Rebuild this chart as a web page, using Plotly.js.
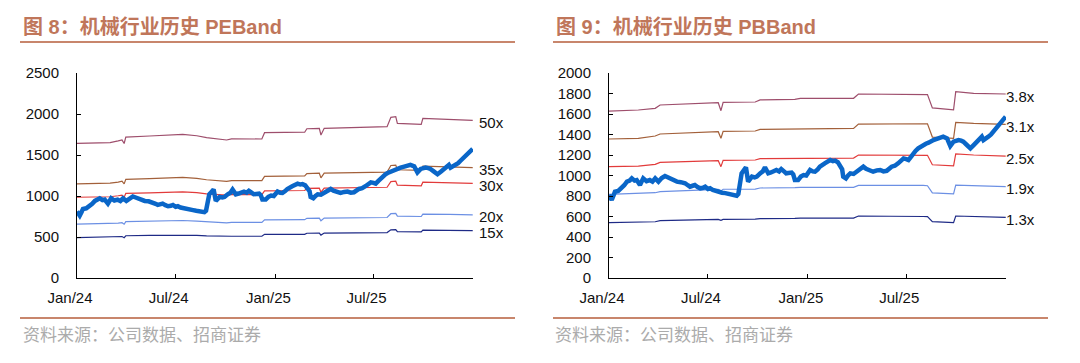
<!DOCTYPE html>
<html>
<head>
<meta charset="utf-8">
<script src="https://cdn.plot.ly/plotly-3.0.1.min.js"></script>
<style>html,body{margin:0;padding:0;background:#fff;}#chart{width:1080px;height:363px;}</style>
</head>
<body>
<div id="chart"></div>
<script>
// ---------- shared x ticks ----------
const tickDates = ['2024-01-01', '2024-07-01', '2025-01-01', '2025-07-01'];
const tickLabels = ['Jan/24', 'Jul/24', 'Jan/25', 'Jul/25'];

// ---------- index (机械行业指数) ----------
const idxDates = ['2024-01-01','2024-01-04','2024-01-06','2024-01-09','2024-01-12','2024-01-18','2024-01-24','2024-01-29','2024-02-03','2024-02-08','2024-02-12','2024-02-17','2024-02-21','2024-02-27','2024-03-04','2024-03-10','2024-03-16','2024-03-21','2024-03-26','2024-04-01','2024-04-07','2024-04-13','2024-04-17','2024-04-22','2024-04-28','2024-05-05','2024-05-12','2024-05-20','2024-05-25','2024-05-29','2024-06-03','2024-06-07','2024-06-12','2024-06-17','2024-06-22','2024-06-26','2024-07-01','2024-07-05','2024-07-10','2024-07-14','2024-07-20','2024-07-27','2024-08-02','2024-08-08','2024-08-15','2024-08-23','2024-08-26','2024-08-29','2024-09-01','2024-09-05','2024-09-09','2024-09-13','2024-09-17','2024-09-20','2024-09-25','2024-09-29','2024-10-05','2024-10-10','2024-10-14','2024-10-20','2024-10-25','2024-10-29','2024-11-04','2024-11-09','2024-11-13','2024-11-18','2024-11-22','2024-12-02','2024-12-05','2024-12-08','2024-12-14','2024-12-19','2024-12-24','2024-12-29','2025-01-05','2025-01-10','2025-01-14','2025-01-19','2025-01-23','2025-02-01','2025-02-06','2025-02-11','2025-02-16','2025-02-20','2025-02-25','2025-03-01','2025-03-05','2025-03-07','2025-03-12','2025-03-16','2025-03-20','2025-03-26','2025-04-01','2025-04-07','2025-04-13','2025-04-18','2025-04-22','2025-04-27','2025-05-01','2025-05-08','2025-05-14','2025-05-20','2025-05-26','2025-06-04','2025-06-10','2025-06-16','2025-06-21','2025-06-26','2025-07-01','2025-07-05','2025-07-10','2025-07-14','2025-07-18','2025-07-23','2025-07-27','2025-08-01','2025-08-06','2025-08-11','2025-08-15','2025-08-20','2025-08-25','2025-08-29','2025-09-03','2025-09-07','2025-09-14','2025-09-20','2025-09-26','2025-10-01','2025-10-05','2025-10-10','2025-10-14','2025-10-20','2025-10-27','2025-11-02','2025-11-07','2025-11-11','2025-11-17','2025-11-20','2025-11-25','2025-11-29','2025-12-04','2025-12-08','2025-12-12','2025-12-17','2025-12-22','2025-12-26','2025-12-31'];
const idxValues = [810,790,761,800,842,850,875,905,940,950,972,950,956,907,972,945,956,940,972,940,975,995,985,972,955,940,935,924,905,891,900,907,888,875,880,891,868,875,860,852,845,832,828,820,812,803,820,900,1021,1050,1080,940,975,989,982,989,1021,1040,1080,1021,1030,1037,1054,1040,1063,1040,1021,1028,1010,956,956,990,1005,1000,1054,1040,1037,1060,1086,1119,1130,1151,1140,1145,1130,1102,1060,989,972,1000,1021,1015,1037,1060,1086,1065,1054,1045,1037,1050,1054,1040,1046,1086,1095,1119,1140,1167,1160,1151,1185,1216,1240,1265,1280,1297,1310,1320,1335,1346,1355,1362,1370,1379,1362,1288,1330,1340,1346,1340,1330,1300,1265,1297,1320,1346,1379,1346,1360,1379,1400,1427,1450,1483,1510,1541,1574];

// ---------- PE band ----------
const peDates = ['2024-01-01','2024-03-02','2024-03-17','2024-03-24','2024-03-28','2024-03-31','2024-05-14','2024-07-14','2024-08-09','2024-08-27','2024-10-03','2024-10-12','2024-12-07','2024-12-12','2025-02-24','2025-02-28','2025-03-23','2025-03-26','2025-04-01','2025-07-26','2025-08-02','2025-08-11','2025-08-14','2025-09-27','2025-09-30','2025-11-18','2025-12-31'];
const pe50 = [1642,1652,1672,1685,1640,1718,1732,1752,1735,1712,1683,1697,1695,1772,1778,1820,1825,1744,1825,1845,1960,1967,1886,1874,1947,1939,1923];
const pe35 = [1149,1156,1170,1180,1148,1203,1212,1226,1215,1198,1178,1188,1187,1240,1245,1274,1278,1221,1278,1292,1372,1377,1320,1312,1363,1357,1346];
const pe30 = [985,991,1003,1011,984,1031,1039,1051,1041,1027,1010,1018,1017,1063,1067,1092,1095,1046,1095,1107,1176,1180,1132,1124,1168,1163,1154];
const pe20 = [657,661,669,674,656,687,693,701,694,685,673,679,678,709,711,728,730,698,730,738,784,787,754,750,779,776,769];
const pe15 = [493,496,502,506,492,515,520,526,521,514,505,509,509,532,533,546,548,523,548,554,588,590,566,562,584,582,577];
const peLabels = ['50x','35x','30x','20x','15x'];

// ---------- PB band ----------
const pbDates = ['2024-01-01','2024-02-24','2024-03-26','2024-04-04','2024-07-20','2024-07-25','2024-07-29','2024-09-26','2024-10-05','2024-12-08','2024-12-18','2025-03-26','2025-04-04','2025-08-01','2025-08-09','2025-08-18','2025-09-26','2025-09-30','2025-11-02','2025-12-31'];
const pb38 = [1629,1639,1655,1688,1710,1632,1713,1717,1737,1743,1753,1753,1795,1795,1790,1660,1640,1818,1802,1795];
const pb31 = [1356,1363,1385,1405,1427,1363,1430,1434,1450,1454,1460,1460,1502,1509,1505,1375,1363,1519,1509,1499];
const pb25 = [1086,1092,1109,1128,1145,1086,1148,1151,1164,1167,1171,1170,1200,1200,1197,1105,1093,1210,1200,1190];
const pb19 = [816,822,832,842,865,850,866,868,878,882,885,885,904,904,900,830,820,907,900,891];
const pb13 = [540,543,549,559,572,562,572,574,580,582,585,585,605,600,598,550,540,605,598,592];
const pbLabels = ['3.8x','3.1x','2.5x','1.9x','1.3x'];

// ---------- titles ----------
const titleLeft = '图 8：机械行业历史 PEBand';
const titleRight = '图 9：机械行业历史 PBBand';
const sourceText = '资料来源：公司数据、招商证券';

// ---------- styles ----------
const bandColors = ['#9E4E6C', '#A3603A', '#E23B3B', '#6C90E4', '#1E2A86'];
const idxColor = '#0A66C8';
const W = 1080, H = 363;
const px = v => v / W;
const py = v => 1 - v / H;

const traces = [];
const peSeries = [pe50, pe35, pe30, pe20, pe15];
const pbSeries = [pb38, pb31, pb25, pb19, pb13];
peSeries.forEach((s, i) => traces.push({x: peDates, y: s, type: 'scatter', mode: 'lines', xaxis: 'x', yaxis: 'y', line: {color: bandColors[i], width: 1.2}, hoverinfo: 'skip'}));
traces.push({x: idxDates, y: idxValues, type: 'scatter', mode: 'lines', xaxis: 'x', yaxis: 'y', line: {color: idxColor, width: 4.5}});
pbSeries.forEach((s, i) => traces.push({x: pbDates, y: s, type: 'scatter', mode: 'lines', xaxis: 'x2', yaxis: 'y2', line: {color: bandColors[i], width: 1.2}, hoverinfo: 'skip'}));
traces.push({x: idxDates, y: idxValues, type: 'scatter', mode: 'lines', xaxis: 'x2', yaxis: 'y2', line: {color: idxColor, width: 4.5}});

const tickFont = {family: 'Liberation Sans, Arial, sans-serif', size: 15, color: '#111'};
function xAxis(domain, anchor) {
  return {domain: domain, anchor: anchor, type: 'date', range: ['2024-01-01', '2025-12-31 12:00'],
    tickmode: 'array', tickvals: tickDates, ticktext: tickLabels, ticks: 'inside', ticklen: 4, tickwidth: 1, tickcolor: '#000',
    showline: true, linecolor: '#000', linewidth: 1, showgrid: false, zeroline: false, tickfont: tickFont,
    ticklabelshift: -7, ticklabelstandoff: 6, fixedrange: true};
}
function yAxis(domain, anchor, max, dtick) {
  return {domain: domain, anchor: anchor, range: [0, max], tick0: 0, dtick: dtick, ticks: 'inside', ticklen: 4, tickwidth: 1, tickcolor: '#000',
    showline: true, linecolor: '#000', linewidth: 1, showgrid: false, zeroline: false, tickfont: tickFont,
    ticklabelstandoff: 14, fixedrange: true};
}

const yDom = [py(278), py(73)];
const annotations = [];
const titleFont = {family: 'Liberation Sans, Noto Sans CJK SC, sans-serif', size: 20, color: '#C0765A', weight: 'bold'};
const srcFont = {family: 'Noto Sans CJK SC, sans-serif', size: 17, color: '#ABABAB'};
annotations.push({text: '<b>' + titleLeft + '</b>', xref: 'paper', yref: 'paper', x: px(21), y: py(27), xanchor: 'left', yanchor: 'middle', showarrow: false, font: titleFont});
annotations.push({text: '<b>' + titleRight + '</b>', xref: 'paper', yref: 'paper', x: px(554), y: py(27), xanchor: 'left', yanchor: 'middle', showarrow: false, font: titleFont});
annotations.push({text: sourceText, xref: 'paper', yref: 'paper', x: px(21), y: py(333), xanchor: 'left', yanchor: 'middle', showarrow: false, font: srcFont});
annotations.push({text: sourceText, xref: 'paper', yref: 'paper', x: px(553), y: py(333), xanchor: 'left', yanchor: 'middle', showarrow: false, font: srcFont});
const labFont = {family: 'Liberation Sans, Arial, sans-serif', size: 15, color: '#111'};
peSeries.forEach((s, i) => annotations.push({text: peLabels[i], xref: 'x', yref: 'y', x: peDates[peDates.length - 1], y: s[s.length - 1], xanchor: 'left', yanchor: 'middle', xshift: 4, yshift: -2, showarrow: false, font: labFont}));
pbSeries.forEach((s, i) => annotations.push({text: pbLabels[i], xref: 'x2', yref: 'y2', x: pbDates[pbDates.length - 1], y: s[s.length - 1], xanchor: 'left', yanchor: 'middle', xshift: -2, yshift: -2, showarrow: false, font: labFont}));

const ruleColor = '#C8866C';
const shapes = [
  {type: 'line', xref: 'paper', yref: 'paper', x0: px(20), x1: px(515), y0: py(42), y1: py(42), line: {color: ruleColor, width: 2}},
  {type: 'line', xref: 'paper', yref: 'paper', x0: px(553), x1: px(1048), y0: py(42), y1: py(42), line: {color: ruleColor, width: 2}},
  {type: 'line', xref: 'paper', yref: 'paper', x0: px(20), x1: px(515), y0: py(318), y1: py(318), line: {color: ruleColor, width: 2}},
  {type: 'line', xref: 'paper', yref: 'paper', x0: px(553), x1: px(1048), y0: py(318), y1: py(318), line: {color: ruleColor, width: 2}}
];

const layout = {
  width: W, height: H, margin: {l: 0, r: 0, t: 0, b: 0}, paper_bgcolor: '#fff', plot_bgcolor: '#fff', showlegend: false,
  xaxis: xAxis([px(77), px(473)], 'y'),
  yaxis: yAxis(yDom, 'x', 2500, 500),
  xaxis2: xAxis([px(609), px(1006)], 'y2'),
  yaxis2: yAxis(yDom, 'x2', 2000, 200),
  annotations: annotations, shapes: shapes
};
Plotly.newPlot('chart', traces, layout, {displayModeBar: false, staticPlot: true});
</script>
</body>
</html>
